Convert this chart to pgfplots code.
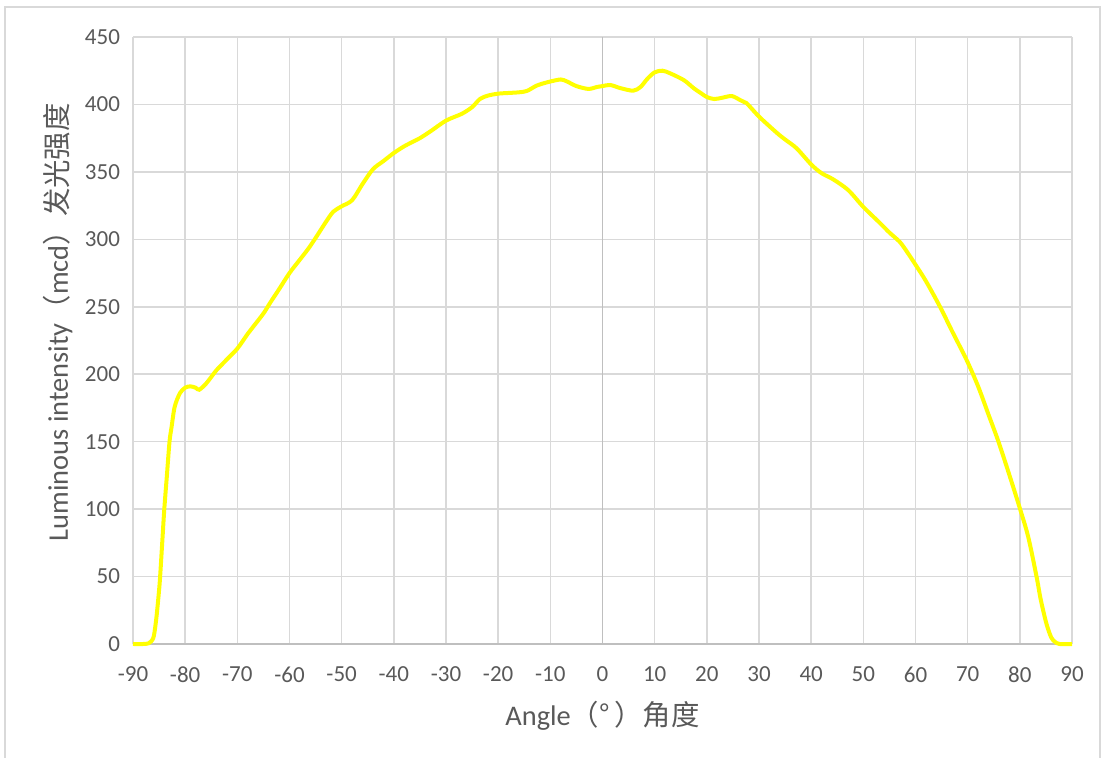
\documentclass[border=0pt]{standalone}
\usepackage{fontspec}
\setmainfont{Carlito}
\newfontfamily\cjk{Noto Sans CJK SC}
\usepackage{pgfplots}
\pgfplotsset{compat=1.18}
\definecolor{txt}{HTML}{595959}
\definecolor{grd}{HTML}{D9D9D9}
\definecolor{axl}{HTML}{BFBFBF}
\definecolor{curve}{HTML}{FFFF00}
\begin{document}
\begin{tikzpicture}
\useasboundingbox (0,0) rectangle (551pt,379pt);
\draw[grd, line width=1pt] (2.5pt,0) -- (2.5pt,375.5pt) -- (550pt,375.5pt) -- (550pt,0);
\begin{axis}[
  at={(66.5pt,57pt)}, anchor=south west,
  width=469.5pt, height=303.5pt, scale only axis,
  xmin=-90, xmax=90, ymin=0, ymax=450,
  xtick={-90,-80,...,90}, ytick={0,50,...,450},
  grid=major, major grid style={grd, line width=0.75pt},
  axis line style={draw=none}, tick style={draw=none},
  /pgf/number format/assume math mode=true,
  ticklabel style={font=\fontsize{11.5}{13}\selectfont, text=txt},
  xticklabel style={yshift=-8pt},
  yticklabel style={xshift=-3pt},
  clip=false,
]
\draw[axl, line width=0.75pt] (axis cs:-90,0) -- (axis cs:90,0);
\draw[axl, line width=0.75pt] (axis cs:0,0) -- (axis cs:0,450);
\addplot[curve, line width=2pt, smooth, tension=0.5] coordinates {
(-90,0) (-88,0) (-87,0.5) (-86.5,2) (-86,6) (-85.5,20) (-85,40) (-84.8,50)
(-84.4,75) (-84,100) (-83.5,125) (-83,150) (-82.6,161) (-82,176) (-81,186)
(-80,190) (-79,191) (-78,190) (-77.3,188.5) (-76,193) (-75,198) (-74,203)
(-73,207) (-72,211) (-70,219) (-68,230) (-67,235) (-65,245) (-63.7,253)
(-62,263) (-60,275) (-58,285) (-56.4,293) (-55,301) (-53,313) (-51.6,320.5)
(-50,324.5) (-48,329) (-46,341) (-44,352) (-42,358) (-40,364) (-38,369)
(-36,373) (-35,375) (-33,380) (-30,388) (-27,393) (-25,398) (-23.5,404)
(-22,406.5) (-20,408) (-18,408.5) (-16,409) (-14.5,410) (-12.6,414) (-11,416)
(-10,417) (-8,418.5) (-6.8,417) (-5,413.6) (-2.7,411.5) (-1,413) (0,413.6)
(1.5,414.4) (3.5,412) (5.9,410.2) (7.3,413) (8.6,419) (10,423.8) (11.5,425)
(13,423) (15.6,418) (17.5,412) (19,408) (20,405.5) (21.4,404) (23,405)
(24.8,406.2) (26.5,403) (27.6,401) (30,391) (33.4,379) (35,374) (37.2,367.5)
(40,355.5) (42,349) (44.2,344.5) (47.1,336.5) (50,324) (53.2,312) (55,305)
(57,298) (58.5,290) (60.2,280) (62,269) (64.7,250) (67,232) (69.8,210.5)
(72,191) (74,170) (75.9,150) (78.1,124) (80,100.6) (81.6,79.5) (83.2,50)
(84,33) (85.1,15) (86,5) (86.7,1.7) (87.6,0) (90,0)
};
\node[text=txt, font=\fontsize{14.2}{16}\selectfont, rotate=90] at (rel axis cs:-0.0799,0.530)
  {Luminous intensity{\cjk （}mcd{\cjk ）发光强度}};
\node[text=txt, font=\fontsize{14.2}{16}\selectfont] at (rel axis cs:0.5,-0.1186)
  {Angle{\cjk （°\,）角度}};
\end{axis}
\end{tikzpicture}
\end{document}
